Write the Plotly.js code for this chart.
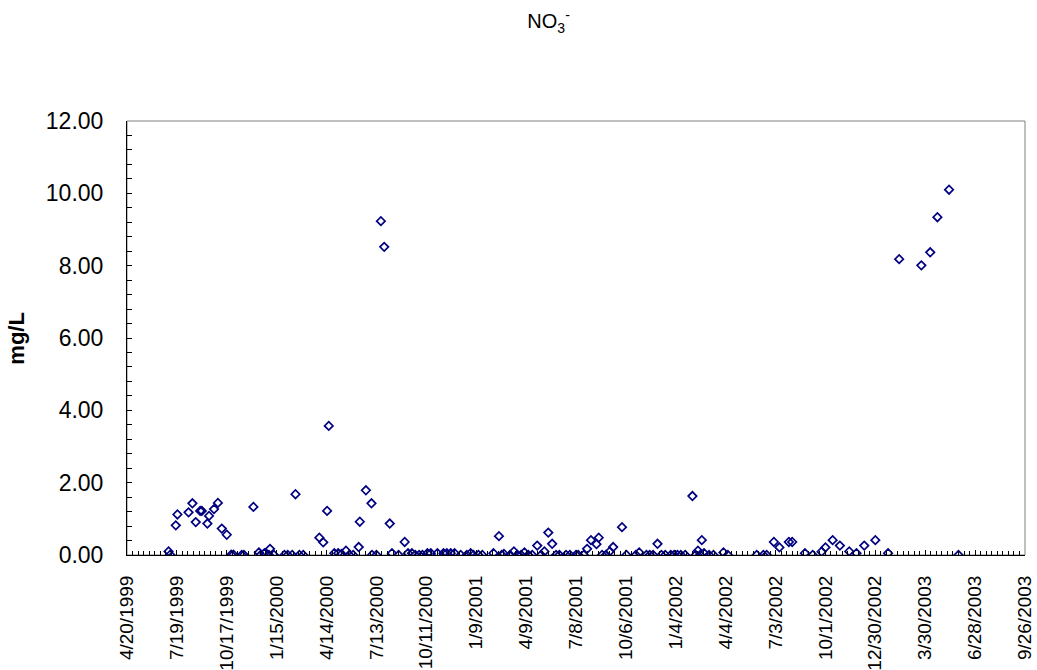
<!DOCTYPE html>
<html>
<head>
<meta charset="utf-8">
<script src="https://cdn.plot.ly/plotly-3.0.1.min.js"></script>
<style>html,body{margin:0;padding:0;background:#fff;}#chart{width:1037px;height:670px;}</style>
</head>
<body>
<div id="chart"></div>
<script>
const sampleDates = [
 "1999-07-04","1999-07-07","1999-07-17","1999-07-20","1999-08-09","1999-08-16","1999-08-22","1999-08-30",
 "1999-09-02","1999-09-12","1999-09-15","1999-09-24","1999-10-01","1999-10-08","1999-10-17","1999-10-25",
 "1999-10-29","1999-11-13","1999-11-17","1999-12-04","1999-12-14","1999-12-17","1999-12-24","2000-01-01",
 "2000-01-03","2000-01-10","2000-01-29","2000-02-04","2000-02-12","2000-02-18","2000-02-25","2000-03-03",
 "2000-04-01","2000-04-08","2000-04-15","2000-04-18","2000-04-28","2000-05-05","2000-05-11","2000-05-19",
 "2000-05-25","2000-06-01","2000-06-11","2000-06-13","2000-06-24","2000-07-04","2000-07-05","2000-07-13",
 "2000-07-21","2000-07-27","2000-08-06","2000-08-10","2000-08-22","2000-09-02","2000-09-08","2000-09-15",
 "2000-09-21","2000-09-28","2000-10-04","2000-10-13","2000-10-19","2000-10-31","2000-11-11","2000-11-17",
 "2000-11-24","2000-12-01","2000-12-12","2000-12-23","2000-12-30","2001-01-04","2001-01-13","2001-01-20",
 "2001-02-09","2001-02-19","2001-02-24","2001-02-28","2001-03-11","2001-03-18","2001-03-24","2001-03-31",
 "2001-04-06","2001-04-13","2001-04-20","2001-04-29","2001-05-06","2001-05-12","2001-05-19","2001-05-26",
 "2001-06-02","2001-06-08","2001-06-20","2001-06-27","2001-07-08","2001-07-12","2001-07-22","2001-07-28",
 "2001-08-04","2001-08-14","2001-08-18","2001-08-24","2001-08-31","2001-09-07","2001-09-13","2001-09-29",
 "2001-10-07","2001-10-24","2001-10-30","2001-11-12","2001-11-18","2001-11-24","2001-12-02","2001-12-09",
 "2001-12-16","2001-12-26","2002-01-01","2002-01-07","2002-01-13","2002-01-21","2002-02-03","2002-02-09",
 "2002-02-13","2002-02-17","2002-02-20","2002-02-24","2002-03-05","2002-03-13","2002-03-31","2002-04-08",
 "2002-05-30","2002-06-11","2002-06-17","2002-06-30","2002-07-10","2002-07-27","2002-08-02","2002-08-25",
 "2002-09-08","2002-09-24","2002-10-01","2002-10-14","2002-10-27","2002-11-13","2002-11-26","2002-12-10",
 "2002-12-30","2003-01-22","2003-02-11","2003-03-23","2003-04-08","2003-04-21","2003-05-12","2003-05-29"
];
const no3Values = [
 0.10,0.01,0.82,1.12,1.18,1.43,0.91,1.22,
 1.22,0.87,1.08,1.27,1.44,0.73,0.56,0.01,
 0.01,0.00,0.00,1.33,0.07,0.00,0.05,0.00,
 0.17,0.00,0.00,0.00,0.00,1.68,0.00,0.00,
 0.48,0.35,1.22,3.57,0.05,0.05,0.03,0.12,
 0.00,0.00,0.22,0.92,1.79,1.43,0.00,0.00,
 9.23,8.52,0.87,0.05,0.00,0.36,0.05,0.05,
 0.00,0.00,0.00,0.05,0.05,0.05,0.05,0.05,
 0.05,0.05,0.00,0.00,0.05,0.00,0.00,0.00,
 0.05,0.52,0.00,0.03,0.00,0.10,0.00,0.00,
 0.07,0.00,0.00,0.26,0.00,0.10,0.62,0.31,
 0.00,0.00,0.00,0.00,0.00,0.00,0.00,0.17,
 0.41,0.30,0.48,0.00,0.00,0.10,0.22,0.77,
 0.00,0.00,0.07,0.00,0.00,0.00,0.31,0.00,
 0.00,0.00,0.00,0.00,0.00,0.00,1.63,0.00,
 0.12,0.00,0.41,0.05,0.00,0.00,0.07,0.00,
 0.00,0.00,0.00,0.36,0.21,0.36,0.36,0.05,
 0.00,0.09,0.21,0.41,0.26,0.10,0.05,0.26,
 0.41,0.05,8.18,8.01,8.37,9.34,10.10,0.00
];
const chartTitle = "NO<sub>3</sub><sup>-</sup>";
const yTitle = "<b>mg/L</b>";
const xRange = ["1999-04-20", "2003-09-26"];
const yRange = [0, 12];

const DAY = 86400000;
const trace = {
  type: "scatter",
  mode: "markers",
  x: sampleDates,
  y: no3Values,
  marker: {symbol: "diamond-open", size: 6.5, color: "#000080", line: {width: 1.7, color: "#000080"}},
  hoverinfo: "x+y"
};

const layout = {
  width: 1037, height: 670,
  margin: {l: 127, r: 12, t: 121, b: 115},
  paper_bgcolor: "#ffffff", plot_bgcolor: "#ffffff",
  font: {family: "Liberation Sans, Arial, sans-serif", color: "#000000"},
  showlegend: false,
  title: {text: chartTitle, font: {size: 20, family: "Liberation Sans, Arial, sans-serif", color: "#000"},
          x: 0.529, xref: "container", xanchor: "center", y: 0.968, yref: "container", yanchor: "middle"},
  xaxis: {
    type: "date", range: xRange, autorange: false,
    tick0: xRange[0], dtick: 90 * DAY, tickformat: "%-m/%-d/%Y", tickangle: -90,
    tickfont: {size: 19},
    ticks: "inside", ticklen: 5, tickwidth: 1, tickcolor: "#000",
    ticklabelstandoff: 12,
    minor: {dtick: 10 * DAY, tick0: xRange[0], ticks: "inside", ticklen: 4, tickcolor: "#000", showgrid: false},
    showgrid: false, zeroline: false,
    showline: true, linecolor: "#000", linewidth: 1
  },
  yaxis: {
    range: yRange, autorange: false, dtick: 2, tick0: 0, tickformat: ".2f",
    tickfont: {size: 23},
    ticks: "inside", ticklen: 5, tickwidth: 1, tickcolor: "#000",
    ticklabelstandoff: 18,
    minor: {dtick: 0.4, ticks: "inside", ticklen: 5, tickcolor: "#000", showgrid: false},
    showgrid: false, zeroline: false,
    showline: true, linecolor: "#000", linewidth: 1
  },
  shapes: [{type: "rect", xref: "paper", yref: "paper", x0: 0, x1: 1, y0: 0, y1: 1,
            line: {color: "#808080", width: 1}, layer: "below"}],
  annotations: [{text: yTitle, xref: "paper", yref: "paper", x: -0.124, y: 0.5,
                 xanchor: "center", yanchor: "middle", textangle: -90, showarrow: false,
                 font: {size: 22, family: "Liberation Sans, Arial, sans-serif", color: "#000"}}]
};

Plotly.newPlot("chart", [trace], layout, {displayModeBar: false, staticPlot: true});
</script>
</body>
</html>
